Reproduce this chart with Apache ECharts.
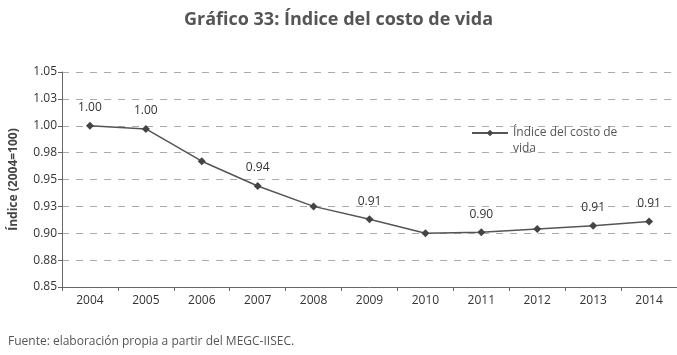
<!DOCTYPE html>
<html>
<head>
<meta charset="utf-8">
<script src="https://cdn.jsdelivr.net/npm/echarts@6/dist/echarts.min.js"></script>
<style>
  html, body { margin: 0; padding: 0; background: #fff; }
  #chart { width: 677px; height: 355px; }
</style>
</head>
<body>
<div id="chart"></div>
<script>
var years = ['2004', '2005', '2006', '2007', '2008', '2009', '2010', '2011', '2012', '2013', '2014'];
var costIndex = [1.000, 0.997, 0.967, 0.944, 0.925, 0.913, 0.900, 0.901, 0.904, 0.907, 0.911];
var labelledYears = ['2004', '2005', '2007', '2009', '2011', '2013', '2014'];
var yTicks = { min: 0.85, max: 1.05, interval: 0.025 };

function fmt2(v) {
  // round half up, the way the original spreadsheet did (1.025 -> 1.03)
  return (Math.round(v * 100 + 1e-6) / 100).toFixed(2);
}

(function () {
  var myChart = echarts.init(document.getElementById('chart'));
  var font = '"Open Sans", sans-serif';

  var seriesData = costIndex.map(function (v, i) {
    return {
      value: v,
      label: { show: labelledYears.indexOf(years[i]) >= 0 }
    };
  });

  var option = {
    animation: false,
    title: {
      text: 'Gráfico 33: Índice del costo de vida',
      left: 'center',
      top: 6,
      textStyle: { fontFamily: font, fontSize: 18, fontWeight: 'bold', color: '#555' }
    },
    legend: {
      left: 466,
      top: 104,
      orient: 'vertical',
      itemWidth: 36,
      itemHeight: 8,
      itemGap: 4,
      // blank first line keeps the marker level with the first text line
      formatter: function () { return ' \nÍndice del costo de\nvida'; },
      textStyle: { fontFamily: font, fontSize: 12, color: '#555', lineHeight: 16 },
      data: ['Índice del costo de vida']
    },
    graphic: [{
      type: 'text',
      left: 8,
      top: 336,
      style: {
        text: 'Fuente: elaboración propia a partir del MEGC-IISEC.',
        font: '12px ' + font,
        fill: '#555'
      }
    }],
    grid: {
      left: 58,
      right: -2,
      top: 72,
      bottom: 68
    },
    xAxis: {
      type: 'category',
      data: years,
      boundaryGap: true,
      axisLine: { lineStyle: { color: '#666', width: 1 } },
      axisTick: { show: true, length: 4, lineStyle: { color: '#666' } },
      axisLabel: { fontFamily: font, fontSize: 12, color: '#333', margin: 8 }
    },
    yAxis: {
      type: 'value',
      min: yTicks.min,
      max: yTicks.max,
      interval: yTicks.interval,
      name: 'Índice (2004=100)',
      nameLocation: 'middle',
      nameGap: 42,
      nameRotate: 90,
      nameTextStyle: { fontFamily: font, fontSize: 12, fontWeight: 'bold', color: '#444' },
      axisLine: { show: true, lineStyle: { color: '#666' } },
      axisTick: { show: true, length: 4, lineStyle: { color: '#666' } },
      axisLabel: {
        fontFamily: font, fontSize: 12, color: '#333', margin: 5,
        formatter: function (v) { return fmt2(v); }
      },
      splitLine: { lineStyle: { color: '#aaa', type: [7, 7], width: 1 } }
    },
    series: [{
      name: 'Índice del costo de vida',
      type: 'line',
      data: seriesData,
      symbol: 'diamond',
      symbolSize: 8,
      lineStyle: { color: '#555', width: 1.5 },
      itemStyle: { color: '#444' },
      label: {
        position: 'top',
        distance: 8,
        fontFamily: font,
        fontSize: 12,
        color: '#333',
        formatter: function (p) { return fmt2(p.value); }
      }
    }]
  };

  myChart.setOption(option);
  window.addEventListener('resize', function () {
    myChart.resize();
  });
})();
</script>
</body>
</html>
